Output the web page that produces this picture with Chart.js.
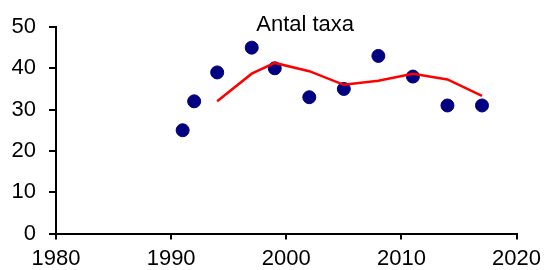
<!DOCTYPE html>
<html>
<head>
<meta charset="utf-8">
<script src="https://cdn.jsdelivr.net/npm/chart.js@4"></script>
<style>
  html, body { margin: 0; padding: 0; background: #fff; }
  #wrap { width: 547px; height: 270px; }
</style>
</head>
<body>
<div id="wrap"><canvas id="taxaChart"></canvas></div>
<script>
// Antal taxa per provtagningsår
const years = [1991, 1992, 1994, 1997, 1999, 2002, 2005, 2008, 2011, 2014, 2017];
const taxa = [25, 32, 39, 45, 40, 33, 35, 43, 38, 31, 31];

// glidande medelvärde (röd linje)
const avgYears = [1994, 1997, 1999, 2002, 2005, 2008, 2011, 2014, 2017];
const avgTaxa = [32, 38.7, 41.3, 39.3, 36, 37, 38.7, 37.3, 33.3];

const titleText = 'Antal taxa';

const innerTitle = {
    id: 'innerTitle',
    afterDraw(chart) {
        const ctx = chart.ctx;
        const a = chart.chartArea;
        ctx.save();
        ctx.font = '22px "Liberation Sans", Arial, sans-serif';
        ctx.fillStyle = '#000';
        ctx.textAlign = 'center';
        ctx.textBaseline = 'alphabetic';
        ctx.fillText(titleText, a.left + (a.right - a.left) * 0.541, a.top + 4);
        ctx.restore();
    }
};

const tickFont = { family: '"Liberation Sans", Arial, sans-serif', size: 22 };

new Chart(document.getElementById('taxaChart'), {
    type: 'scatter',
    data: {
        datasets: [
            {
                type: 'line',
                data: avgYears.map((y, i) => ({ x: y, y: avgTaxa[i] })),
                borderColor: '#ff0000',
                borderWidth: 2.5,
                pointRadius: 0,
                fill: false,
                tension: 0,
                order: 0
            },
            {
                data: years.map((y, i) => ({ x: y, y: taxa[i] })),
                backgroundColor: '#000080',
                borderColor: '#000080',
                pointRadius: 6.5,
                pointHoverRadius: 6.5,
                order: 1
            }
        ]
    },
    options: {
        responsive: true,
        maintainAspectRatio: false,
        animation: false,
        layout: { padding: { left: 0, right: 29, top: 27, bottom: 0 } },
        plugins: {
            legend: { display: false },
            tooltip: { enabled: false }
        },
        scales: {
            x: {
                type: 'linear',
                min: 1980,
                max: 2020,
                afterFit(scale) { scale.height = 36.5; },
                ticks: {
                    stepSize: 10, color: '#000', font: tickFont, padding: 6, maxRotation: 0,
                    callback: v => String(v)
                },
                grid: { display: true, drawOnChartArea: false, drawTicks: true, tickLength: 6, color: '#000', lineWidth: 2 },
                border: { display: true, color: '#000', width: 2 }
            },
            y: {
                min: 0,
                max: 50,
                afterFit(scale) { scale.width = 56; },
                ticks: { stepSize: 10, color: '#000', font: tickFont, padding: 13 },
                grid: { display: true, drawOnChartArea: false, drawTicks: true, tickLength: 7, color: '#000', lineWidth: 2 },
                border: { display: true, color: '#000', width: 2 }
            }
        }
    },
    plugins: [innerTitle]
});
</script>
</body>
</html>
